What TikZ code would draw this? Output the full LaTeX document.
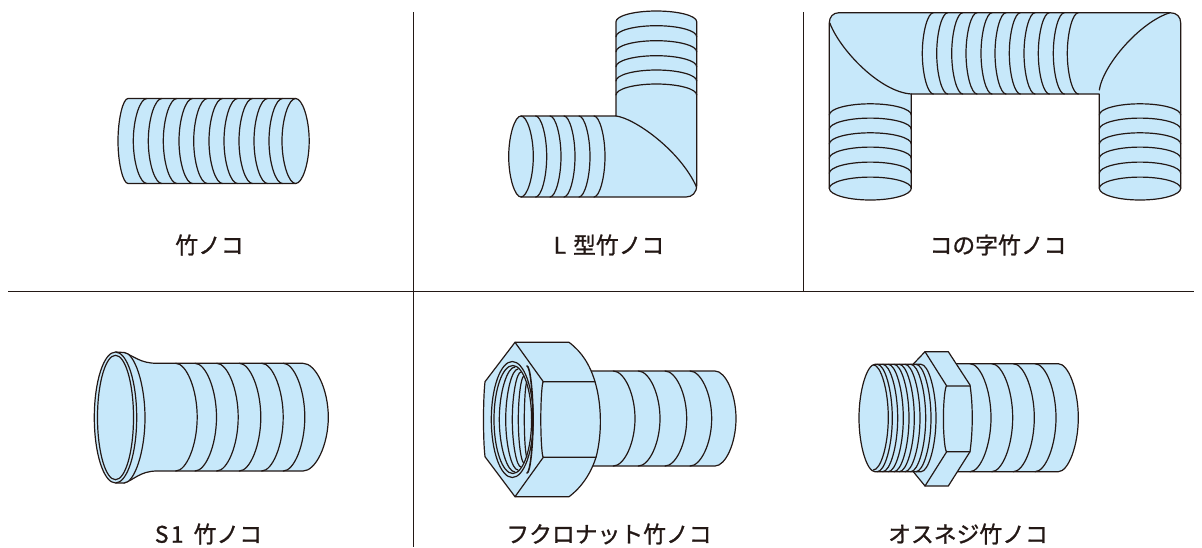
\documentclass[tikz,border=0pt]{standalone}
\usepackage{fontspec}
\newfontfamily\jp{Noto Sans CJK JP}[FakeBold=1.1]
\definecolor{pipe}{HTML}{C7E8FA}
\definecolor{ink}{HTML}{231815}
% half ellipse from (cx,t) to (cx,b), bulging by rx (signed)
\def\VA#1#2#3#4{.. controls ({#1+.5*(#4)},#2) and ({#1+(#4)},{(#2+#3)/2-.26*(#3-(#2))}) .. ({#1+(#4)},{(#2+#3)/2}) .. controls ({#1+(#4)},{(#2+#3)/2+.26*(#3-(#2))}) and ({#1+.5*(#4)},#3) .. (#1,#3)}
% half ellipse from (l,cy) to (r,cy), bulging by ry (signed)
\def\HA#1#2#3#4{.. controls (#2,{#1+.552*(#4)}) and ({(#2+#3)/2-.276*(#3-(#2))},{#1+(#4)}) .. ({(#2+#3)/2},{#1+(#4)}) .. controls ({(#2+#3)/2+.276*(#3-(#2))},{#1+(#4)}) and (#3,{#1+.552*(#4)}) .. (#3,#1)}
\tikzset{
  pipeline/.style={draw=ink,line width=1.2pt,line join=round,line cap=round},
  filled/.style={pipeline,fill=pipe},
  rule/.style={draw=ink,line width=0.9pt},
  caption/.style={text=ink,font=\jp\fontsize{22.8}{24}\selectfont,inner sep=0pt,anchor=center}
}
\begin{document}
\begin{tikzpicture}[x=1pt,y=-1pt]
\useasboundingbox (0,0) rectangle (1202,547);
% frame rules
\coordinate (h1) at (8,291.5); \coordinate (h2) at (1194,291.5);
\coordinate (v1a) at (413.5,12); \coordinate (v1b) at (413.5,547);
\coordinate (v2a) at (803.5,12); \coordinate (v2b) at (803.5,291.5);
\draw[rule] (h1) -- (h2);
\draw[rule] (v1a) -- (v1b);
\draw[rule] (v2a) -- (v2b);
% ---- 1
\path[filled] (128,98.5) -- (295.7,98.5) \VA{295.7}{98.5}{183.5}{13.5} -- (128,183.5) \VA{128}{183.5}{98.5}{-10} -- cycle;
\foreach \x in {133.3,148.3,163.3,179,193.7,209,224,239,254,269,282}
  \draw[pipeline] ({\x+13.5},98.5) \VA{\x+13.5}{98.5}{183.5}{-13.5};
% ---- 2
\path[filled] (616,116) -- (616,21.7) \HA{21.7}{616}{696.7}{-10.7} -- (696.7,185) .. controls (696.7,193) and (692,197) .. (686,197) -- (521,197) \VA{521}{197}{116}{-12.3} -- cycle;
\foreach \y in {36.7,51.7,66.7,81,95}
  \draw[pipeline] (616,\y) \HA{\y}{616}{696.7}{-11};
\foreach \x in {535.7,550,564,579,594}
  \draw[pipeline] (\x,116) \VA{\x}{116}{197}{11};
\draw[pipeline] (521,116) \VA{521}{116}{197}{12.3};
\draw[pipeline] (616,116) .. controls (634,118) and (680,150) .. (696.5,187);
% ---- 3
\path[filled] (839,12.7) -- (1170,12.7) .. controls (1177,12.7) and (1180.7,17) .. (1180.7,23) -- (1180.7,188.3) \HA{188.3}{1180.7}{1099.3}{11.7} -- (1099.3,94) -- (911.3,94) -- (911.3,188.3) \HA{188.3}{911.3}{829.3}{11.7} -- (829.3,23) .. controls (829.3,17) and (833,12.7) .. (839,12.7) -- cycle;
\foreach \y in {115,129.3,144,158.3,173.3,188.3}{
  \draw[pipeline] (829.3,\y) \HA{\y}{829.3}{911.3}{-11.2};
  \draw[pipeline] (1099.3,\y) \HA{\y}{1099.3}{1180.7}{-11.2};
}
\foreach \x in {922.3,936.7,951.7,966,981,995,1009.3,1024,1038.3,1053.3,1067.3}
  \draw[pipeline] ({\x+11},12.7) \VA{\x+11}{12.7}{94}{-11};
\draw[pipeline] (829.8,23) .. controls (840,50) and (880,92) .. (911.3,94);
\draw[pipeline] (1099.3,90) .. controls (1103,65) and (1140,22) .. (1170,12.7);
% ---- 4
\path[filled] (124,352.5) .. controls (134,356) and (140,363.3) .. (157,363.3) -- (303,363.3) \VA{303}{363.3}{471}{25.3} -- (157,471) .. controls (140,471) and (134,480) .. (124,483) -- cycle;
\foreach \x in {175.7,195,216.7,239.3,261.7,283.3}
  \draw[pipeline] (\x,363.3) \VA{\x}{363.3}{471}{21.5};
\path[filled] (116,352) -- (124,352.5) \VA{124}{352.5}{483}{21} -- (116,483) -- cycle;
\path[filled] (115.5,417.5) ellipse [x radius=21.2,y radius=65.5];
\draw[pipeline] (115.5,417.5) ellipse [x radius=18,y radius=62.2];
% ---- 5
\path[filled] (580,371) -- (715,371) \VA{715}{371}{466}{21} -- (580,466) -- cycle;
\foreach \x in {613.3,638.3,665,690}
  \draw[pipeline] (\x,371) \VA{\x}{371}{466}{21.7};
\path[filled] (515,342.3) -- (569,342.3) .. controls (582,352) and (590,365) .. (595,381.7) .. controls (602,405) and (602,435) .. (596,457.3) .. controls (591,473) and (582,487) .. (569,496.7) -- (515,496.7) -- (485,456.7) .. controls (483,440) and (483,400) .. (485,381.7) -- cycle;
\draw[pipeline] (515,342.3) -- (543.3,381.7) -- (595,381.7);
\draw[pipeline] (515,496.7) -- (543.3,457.3) -- (596,457.3);
\draw[pipeline] (543.3,381.7) \VA{543.3}{381.7}{457.3}{-2.5};
\draw[pipeline] (512.3,419.5) ellipse [x radius=21,y radius=58];
\draw[pipeline] (512.8,419.5) ellipse [x radius=18.8,y radius=54];
\foreach \x/\t/\b/\r in {515/367/472/15.7,518/369/470/12.3,521/372/467/8.7,524/376/463/5.7,527/382/457/2.7}
  \draw[pipeline] (\x,\t) \VA{\x}{\t}{\b}{-\r};
\draw[pipeline,line width=1.6pt] (527,366) \VA{527}{366}{473}{6};
% ---- 6
\path[filled] (950,363.7) -- (1058.3,363.7) \VA{1058.3}{363.7}{471.7}{20} -- (950,471.7) -- cycle;
\foreach \x in {970,991.7,1013.3,1035}
  \draw[pipeline] (\x,363.7) \VA{\x}{363.7}{471.7}{21};
\path[filled] (925,351.7) -- (948.3,351.7) -- (970,385) .. controls (973,405) and (973,430) .. (970,451.7) -- (948.3,486) -- (925,486) -- (913.3,471.7) -- (913.3,364) -- cycle;
\draw[pipeline] (925,351.7) -- (946.7,386) -- (970,386);
\draw[pipeline] (925,486) -- (946.7,451.7) -- (970,451.7);
\draw[pipeline] (946.7,386) \VA{946.7}{386}{451.7}{-3.3};
\path[filled] (875,364.3) -- (921,364.3) \VA{921}{364.3}{471.7}{15} -- (875,471.7) \VA{875}{471.7}{364.3}{-16} -- cycle;
\foreach \x in {892.3,897.7,903.3,909,914.3,920,925.7,931}
  \draw[pipeline] ({\x-15},364.3) \VA{\x-15}{364.3}{471.7}{15};
\draw[pipeline] (873.3,364.8) \VA{873.3}{364.8}{470}{15};
% captions
\node[caption] (c1) at (209.5,245) {竹ノコ};
\node[caption] (c2) at (609,245) {L\hspace{2pt} 型竹ノコ};
\node[caption] (c3) at (998,245) {コの字竹ノコ};
\node[caption] (c4) at (208.5,534) {S\hspace{2.5pt}1\hspace{5pt} 竹ノコ};
\node[caption] (c5) at (609,534) {フクロナット竹ノコ};
\node[caption] (c6) at (968,534) {オスネジ竹ノコ};
\end{tikzpicture}
\end{document}
